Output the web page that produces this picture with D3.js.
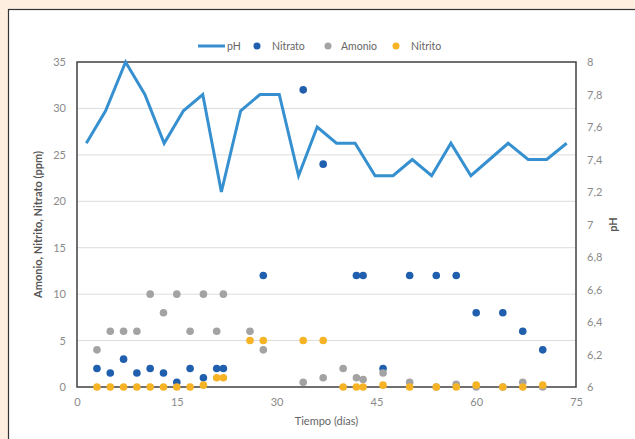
<!DOCTYPE html>
<html><head><meta charset="utf-8">
<script src="https://cdn.jsdelivr.net/npm/d3@7"></script>
<style>
html,body{margin:0;padding:0;background:#fdeee0;}
svg{display:block;font-family:Lato,"Open Sans",sans-serif;}
</style></head>
<body>
<svg id="c" width="635" height="439"></svg>
<script>
// pH series (secondary axis)
const phDays = [1.4,4.3,7.3,10.2,13.1,16.0,18.9,21.7,24.6,27.5,30.4,33.3,36.1,39.0,41.8,44.8,47.5,50.4,53.3,56.2,59.2,62.0,64.8,67.8,70.6,73.6];
const phValues = [7.5,7.7,8.0,7.8,7.5,7.7,7.8,7.2,7.7,7.8,7.8,7.3,7.6,7.5,7.5,7.3,7.3,7.4,7.3,7.5,7.3,7.4,7.5,7.4,7.4,7.5];
// sampling days for the ppm series
const days = [3,5,7,9,11,13,15,17,19,21,22,26,28,34,37,40,42,43,46,50,54,57,60,64,67,70];
const nitrato = [2,1.5,3,1.5,2,1.5,0.5,2,1,2,2,null,12,32,24,null,12,12,2,12,12,12,8,8,6,4];
const amonio  = [4,6,6,6,10,8,10,6,10,6,10,6,4,0.5,1,2,1,0.8,1.5,0.5,0,0.3,0,0,0.5,0];
const nitrito = [0,0,0,0,0,0,0,0,0.2,1,1,5,5,5,5,0,0,0,0.2,0,0,0,0.2,0,0,0.2];
const xTicks = [0,15,30,45,60,75];
const yTicks = [0,5,10,15,20,25,30,35];
const phTicks = [6,6.2,6.4,6.6,6.8,7,7.2,7.4,7.6,7.8,8];
const seriesNames = ["pH","Nitrato","Amonio","Nitrito"];
const colors = {pH:"#3690d0", Nitrato:"#1f5fae", Amonio:"#a3a3a3", Nitrito:"#f6b325"};

const svg = d3.select("#c");
// white panel
svg.append("rect").attr("x",8.5).attr("y",9.5).attr("width",640).attr("height",440)
  .attr("fill","#fff").attr("stroke","#333").attr("stroke-width",1.2);

const L=77,R=576,T=62,B=387;
const x = d3.scaleLinear().domain([0,75]).range([L,R]);
const y = d3.scaleLinear().domain([0,35]).range([B,T]);
const yp = d3.scaleLinear().domain([6,8]).range([B,T]);

// gridlines
svg.append("g").selectAll("line").data(yTicks.filter(d=>d>0&&d<35)).join("line")
  .attr("x1",L).attr("x2",R).attr("y1",d=>y(d)).attr("y2",d=>y(d))
  .attr("stroke","#dcdcdc").attr("stroke-width",1);

// axes (labels only)
const fmtComma = d=>String(d3.format(".1~f")(d)).replace(".",",");
const ax = svg.append("g").attr("transform",`translate(0,${B})`)
  .call(d3.axisBottom(x).tickValues(xTicks).tickSize(0).tickPadding(11));
const ay = svg.append("g").attr("transform",`translate(${L},0)`)
  .call(d3.axisLeft(y).tickValues(yTicks).tickSize(0).tickPadding(11));
const ar = svg.append("g").attr("transform",`translate(${R},0)`)
  .call(d3.axisRight(yp).tickValues(phTicks).tickFormat(fmtComma).tickSize(0).tickPadding(11));
[ax,ay,ar].forEach(g=>{
  g.select(".domain").remove();
  g.selectAll("text").attr("fill","#8a8a8a").style("font-size","11px").style("font-family","Lato,sans-serif");
});

// plot border
svg.append("rect").attr("x",L).attr("y",T).attr("width",R-L).attr("height",B-T)
  .attr("fill","none").attr("stroke","#404040").attr("stroke-width",1.5);

// pH line
svg.append("path").datum(phDays.map((d,i)=>[d,phValues[i]]))
  .attr("d",d3.line().x(d=>x(d[0])).y(d=>yp(d[1])))
  .attr("fill","none").attr("stroke",colors.pH).attr("stroke-width",3).attr("stroke-linejoin","miter");

// scatter series
[["Nitrato",nitrato],["Amonio",amonio],["Nitrito",nitrito]].forEach(([name,vals])=>{
  svg.append("g").selectAll("circle")
    .data(days.map((d,i)=>[d,vals[i]]).filter(d=>d[1]!==null))
    .join("circle").attr("cx",d=>x(d[0])).attr("cy",d=>y(d[1])).attr("r",3.8)
    .attr("fill",colors[name]);
});

// axis titles
svg.append("text").attr("transform",`translate(42,${(T+B)/2}) rotate(-90)`)
  .attr("text-anchor","middle").attr("fill","#555").style("font-size","11px").style("font-weight","bold")
  .text("Amonio, Nitrito, Nitrato (ppm)");
svg.append("text").attr("transform",`translate(617,${(T+B)/2}) rotate(-90)`)
  .attr("text-anchor","middle").attr("fill","#555").style("font-size","11px").style("font-weight","bold")
  .text("pH");
svg.append("text").attr("x",(L+R)/2).attr("y",425)
  .attr("text-anchor","middle").attr("fill","#666").style("font-size","11px")
  .text("Tiempo (días)");

// legend
const lg = svg.append("g").style("font-size","10.5px");
lg.append("line").attr("x1",198).attr("x2",225).attr("y1",46).attr("y2",46)
  .attr("stroke",colors.pH).attr("stroke-width",3);
lg.append("text").attr("x",227).attr("y",50).attr("fill","#666").text(seriesNames[0]);
const lpos = [[257,272],[328,341],[396,411]];
seriesNames.slice(1).forEach((n,i)=>{
  lg.append("circle").attr("cx",lpos[i][0]).attr("cy",46).attr("r",3.5).attr("fill",colors[n]);
  lg.append("text").attr("x",lpos[i][1]).attr("y",50).attr("fill","#666").text(n);
});
</script>
</body></html>
